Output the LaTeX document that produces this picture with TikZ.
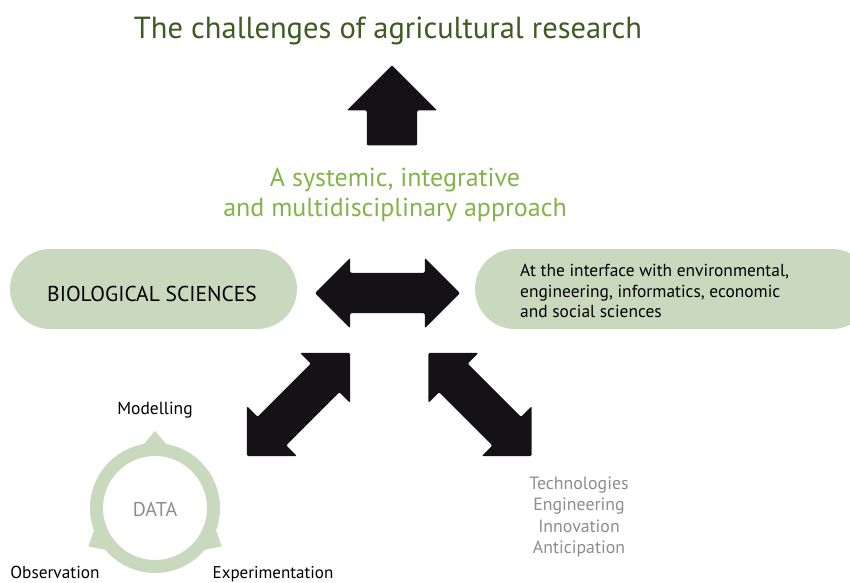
\documentclass[tikz,border=0pt]{standalone}
\usepackage{fontspec}
\setmainfont{PT Sans}
\usetikzlibrary{shapes.arrows,calc}
\definecolor{titlegreen}{HTML}{3E5B22}
\definecolor{subgreen}{HTML}{82B446}
\definecolor{pillgreen}{HTML}{C9D9BD}
\definecolor{arrowblack}{HTML}{151217}
\definecolor{softgray}{HTML}{8C8C8C}
\tikzset{
  fatdbl/.style={double arrow, fill=arrowblack, draw=none, inner xsep=0pt, inner ysep=20pt,
    minimum width=70pt, double arrow head extend=15pt, double arrow tip angle=90,
    rounded corners=1.2pt},
  fatup/.style={single arrow, fill=arrowblack, draw=none, inner xsep=0pt, inner ysep=25pt,
    minimum width=90pt, single arrow head extend=20pt, single arrow tip angle=90,
    rounded corners=1.2pt},
  pill/.style={fill=pillgreen, draw=none, rounded corners=40pt},
  lbl/.style={inner sep=0pt, align=center},
}
\begin{document}
\begin{tikzpicture}[x=1pt,y=-1pt]
\useasboundingbox (0,0) rectangle (850,582);
\clip (0,0) rectangle (850,582);
% title
\node[lbl, text=titlegreen, font=\fontsize{30.5}{36}\selectfont] (title) at (388,31) {The challenges of agricultural research};
% up arrow
\node[fatup, minimum height=80pt, rotate=90, anchor=tip] (up) at (392,65) {};
% subtitle
\node[lbl, text=subgreen, font=\fontsize{26}{30}\selectfont] (sub) at (395,195) {A systemic, integrative\\and multidisciplinary approach};
% pills
\fill[pill] (10,249) rectangle (297,329);
\node[lbl, font=\fontsize{21.5}{24}\selectfont] (bio) at (152,294) {BIOLOGICAL SCIENCES};
\fill[pill] (475,249) rectangle (872,329);
\node[inner sep=0pt, align=left, anchor=west, font=\fontsize{17.4}{20.5}\selectfont] (iface) at (520,291) {At the interface with environmental,\\engineering, informatics, economic\\and social sciences};
% double arrows
\node[fatdbl, minimum height=145pt] (h) at (387.5,293) {};
\node[fatdbl, minimum height=145.7pt, rotate=45] (dl) at (298.5,404.5) {};
\node[fatdbl, minimum height=145.7pt, rotate=-45] (dr) at (480,404.5) {};
% data ring
\coordinate (dc) at (155,508);
\draw[pillgreen, line width=13pt] (dc) circle[radius=58.5];
\foreach \a in {270,150,30}{
  \fill[pillgreen] ($(dc)+(\a:77)$) -- ($(dc)+({\a-16}:60)$) -- ($(dc)+({\a+16}:60)$) -- cycle;
}
\node[lbl, text=softgray, font=\fontsize{20}{22}\selectfont] (data) at (155,509) {DATA};
\node[lbl, font=\fontsize{17.5}{20}\selectfont] (model) at (155,410) {Modelling};
\node[inner sep=0pt, anchor=base, font=\fontsize{17.3}{20}\selectfont] (obs) at (55,578) {Observation};
\node[inner sep=0pt, anchor=base, font=\fontsize{17}{20}\selectfont] (exp) at (273,578) {Experimentation};
% technologies
\node[lbl, text=softgray, font=\fontsize{17.8}{21.3}\selectfont] (tech) at (579,517) {Technologies\\Engineering\\Innovation\\Anticipation};
\end{tikzpicture}
\end{document}
